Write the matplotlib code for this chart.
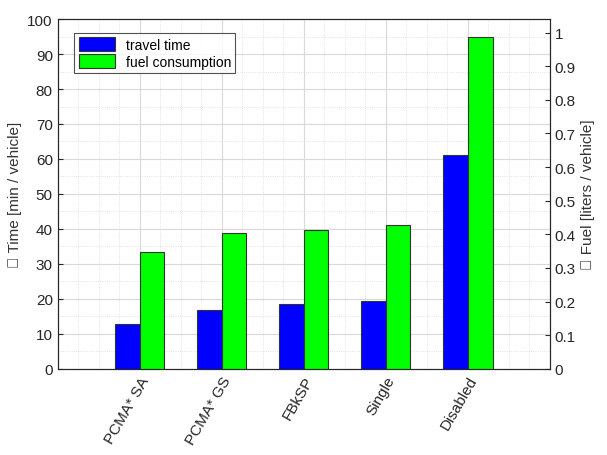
import numpy as np
import matplotlib.pyplot as plt
from matplotlib.ticker import MultipleLocator

plt.rcParams['font.family'] = 'Liberation Sans'

# data
methods = ['PCMA* SA', 'PCMA* GS', 'FBkSP', 'Single', 'Disabled']
travel_time = [12.7, 16.8, 18.5, 19.5, 61.2]      # min / vehicle
fuel = [0.347, 0.405, 0.413, 0.428, 0.988]         # liters / vehicle

x = np.arange(1, len(methods) + 1)
w = 0.3

fig, ax = plt.subplots(figsize=(6.07, 4.56), dpi=100)
fig.subplots_adjust(left=0.095, right=0.906, top=0.956, bottom=0.189)
ax2 = ax.twinx()

ax.set_zorder(ax2.get_zorder() + 1)
ax.patch.set_visible(False)

ax.set_xlim(0, 6)
ax.set_ylim(0, 100)
ax2.set_ylim(0, 1.04)

ax.grid(True, which='major', color='#d9d9d9', lw=0.8)
ax.grid(True, which='minor', color='#d9d9d9', lw=0.6, ls=':')
ax.xaxis.set_minor_locator(MultipleLocator(0.25))
ax.yaxis.set_minor_locator(MultipleLocator(5))
ax.yaxis.set_major_locator(MultipleLocator(10))
ax.set_axisbelow(True)

b1 = ax.bar(x - w / 2, travel_time, w, color='#0000ff', edgecolor='#333333', lw=0.8, label='travel time')
b2 = ax2.bar(x + w / 2, fuel, w, color='#00ff00', edgecolor='#333333', lw=0.8, label='fuel consumption')
# draw green bars on the front axes so they sit above the grid
for r in b2:
    r.remove()
b2 = ax.bar(x + w / 2, [f / 1.04 * 100 for f in fuel], w, color='#00ff00', edgecolor='#333333', lw=0.8,
            label='fuel consumption')

ax2.set_yticks(np.arange(0, 1.01, 0.1))
ax2.set_yticklabels(['0'] + ['%.1f' % v for v in np.arange(0.1, 0.95, 0.1)] + ['1'])

ax.set_xticks(x)
ax.set_xticklabels(methods, rotation=60, ha='right', rotation_mode='anchor')
ax.set_ylabel('⌀ Time [min / vehicle]', color='#333333', fontsize=11)
ax2.set_ylabel('⌀ Fuel [liters / vehicle]', color='#333333', fontsize=11)

for a in (ax, ax2):
    a.tick_params(direction='in', labelsize=11, colors='#262626', which='both')
    a.tick_params(which='minor', length=0)
    for s in a.spines.values():
        s.set_color('#262626')

leg = ax.legend(loc='upper left', bbox_to_anchor=(0.02, 0.98), fancybox=False, edgecolor='#262626',
                fontsize=10, handlelength=2.6, handleheight=1.1, borderpad=0.3, labelspacing=0.2)
leg.get_frame().set_linewidth(0.8)

fig.savefig('out.png', dpi=100)
